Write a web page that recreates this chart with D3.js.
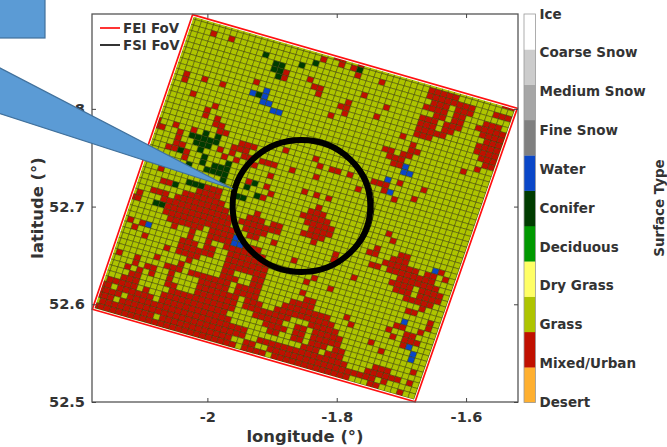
<!DOCTYPE html>
<html><head><meta charset="utf-8">
<script src="https://cdn.jsdelivr.net/npm/d3@7"></script>
<style>html,body{margin:0;padding:0;background:#fff}svg{display:block}text{font-family:"DejaVu Sans",sans-serif;font-weight:bold;fill:#333}</style>
</head><body><svg id="c" width="667" height="447"></svg>
<script>
(function(){
const surfaceTypes=["Desert","Mixed/Urban","Grass","Dry Grass","Deciduous","Conifer","Water","Fine Snow","Medium Snow","Coarse Snow","Ice"];
const surfaceColors=["#ffb030","#c01000","#aec400","#ffff66","#009900","#003c00","#0a47c8","#808080","#a6a6a6","#cccccc","#ffffff"];
const lonTicks=[-2,-1.8,-1.6];
const latTicks=[52.5,52.6,52.7,52.8];
// FEI footprint corners [lon, lat]: top, right, bottom, left
const feiCorners=[[-2.0229,52.8964],[-1.5208,52.8006],[-1.6788,52.5003],[-2.1779,52.5949]];
// FSI footprint: centre and radii in degrees
const fsiCentre=[-1.8545,52.7006];
const fsiRadius=[0.1065,0.0676];
const gridSize=54;
// Urban cells: one string per grid row, listing columns and column spans
const urbanRows=[
"24-25 28 52-53","22 25 27 40-44","4 7 28 32 40-47 51-53","41-43 45-47","40-43 45-46 50-52",
"17 21 30 42-43 45-46 49-53","17 22-23 34 40-42 44-46 50-53","23 28 40-42 44-45 51-53","13 27-28 33 40-44 50-53","28 40-42 50-53",
"2 5 8 26 38 51-53","2 40 52-53","40-41 51","4 36-37 39-40 49","8 37-39",
"7 38-39","7 9","9-10","10-11 21 26 40 44","0 3 6 14-16 27 29-30 32 36-38",
"0-1 4 13-15 38 43","4 11 13 15-16 18-20 23 27 34 40","4-5 12 14 17","3-4 6 20","6 26 28 30",
"17 20","21 29","3 20 28-30 41","11-13 27-31 42","4-5 10-13 28-32",
"8-14 20 29-32 40 44-45","3-5 7-15 19-21 23-24 28-31 39-40 43-45 51","1 5-16 18-24 30 42-47 49-50 52","0-1 6-16 19-22 34 40-41 43-50","6-17 20-21 24 34 45-51",
"7-12 14-17 44-47 49-52","8 11 14-17 20-22 28 38 45-47 49-52","1 3 11 14 17-23 47-51","2 10-12 14-15 18-24 32 50","4 10-15 18-24 31 35 48-49",
"8 10-13 18-24 52","12 18-19 23-24 31 52","7 11 18-20 23-24 32-33 47-48 51","1 4 9-11 13-19 21-24 30-33 39 46 49-50","4 6-7 10 15-19 21-24 29-36 40 47 49-51",
"3 5 7 10 15-21 23-25 28-37 49","4-5 10-11 15-21 23-30 34-38 44","3-5 11-21 25-29 32-33 35-39 46","1-5 7 10-20 27-30 32-33 35-39","0-1 3-8 10-21 28-29 32-33 35-37 39-40 52",
"0-3 5-24 34-36 38-40 46-48","0-2 4-24 27-41 45-50 52","1-9 11-22 25-26 29-43 44-46 48","0-23 25-28 30-42 46-47 51"];
const coniferCells=[[13,3],[15,4],[16,4],[15,5],[16,5],[16,6],[19,3],[21,2],[28,1],[14,10],[6,20],[7,20],[8,19],[7,21],[8,20],[9,20],[10,19],[10,20],[8,21],[9,21],[8,22],[9,23],[9,24],[13,23],[12,24],[13,24],[11,24],[10,25],[11,25],[12,25],[13,25],[13,26],[5,23],[7,25],[8,28],[9,28],[10,28],[6,29],[4,33],[5,33],[18,25],[17,26],[19,27],[17,28],[16,28]];
const waterCells=[[13,10],[15,9],[15,10],[15,11],[16,11],[17,12],[18,12],[40,15],[40,16],[41,16],[38,18],[39,20],[4,37],[18,35],[18,36],[19,36],[50,31],[48,41],[50,45],[51,46],[51,47]];
const legendItems=[["FEI FoV","#ff0000"],["FSI FoV","#000000"]];

const svg=d3.select("#c");
const pL=92,pR=518,pT=14,pB=402;
const x=d3.scaleLinear().domain([-2.1784,-1.5197]).range([pL,pR]);
const y=d3.scaleLinear().domain([52.5,52.8971]).range([pB,pT]);
const colorOf=Object.fromEntries(surfaceTypes.map((t,i)=>[t,surfaceColors[i]]));

// grid cells
const types=new Map();
urbanRows.forEach((s,r)=>s.split(" ").forEach(p=>{const [a,b]=p.split("-").map(Number);for(let c=a;c<=(b===undefined?a:b);c++)types.set(c+","+r,"Mixed/Urban");}));
coniferCells.forEach(([c,r])=>types.set(c+","+r,"Conifer"));
waterCells.forEach(([c,r])=>types.set(c+","+r,"Water"));
const [T,R,B,L]=feiCorners;
const gridShift=0.2;
function corner(u,v){const a=u/gridSize,b=v/gridSize;
  const lon=(1-a)*(1-b)*T[0]+a*(1-b)*R[0]+a*b*B[0]+(1-a)*b*L[0];
  const lat=(1-a)*(1-b)*T[1]+a*(1-b)*R[1]+a*b*B[1]+(1-a)*b*L[1];
  return [x(lon),y(lat)];}
const cells=[];
for(let r=-1;r<=gridSize;r++)for(let c=-1;c<=gridSize;c++)cells.push({c,r,type:types.get(c+","+r)||"Grass"});
const defs=svg.append("defs");
defs.append("clipPath").attr("id","fei").append("polygon").attr("points",feiCorners.map(p=>[x(p[0]),y(p[1])].join(",")).join(" "));
const g=svg.append("g").attr("clip-path","url(#fei)");
g.selectAll("polygon").data(cells).join("polygon")
 .attr("points",d=>{const s=gridShift-0.5;const u=d.c+s,v=d.r+s;return [corner(u,v),corner(u+1,v),corner(u+1,v+1),corner(u,v+1)].map(p=>p.join(",")).join(" ");})
 .attr("fill",d=>colorOf[d.type]).attr("stroke","#3a3f00").attr("stroke-width",0.5);
// FEI
const feiPts=feiCorners.map(p=>[x(p[0]),y(p[1])].join(",")).join(" ");
svg.append("polygon").attr("points",feiPts).attr("fill","none").attr("stroke","#fff").attr("stroke-width",3.4);
svg.append("polygon").attr("points",feiPts).attr("fill","none").attr("stroke","#ff1010").attr("stroke-width",1.7);
// FSI
const fsi=svg.append("g").attr("fill","none");
const cx=x(fsiCentre[0]),cy=y(fsiCentre[1]),rx=x(fsiCentre[0]+fsiRadius[0])-cx,ry=cy-y(fsiCentre[1]+fsiRadius[1]);
fsi.append("ellipse").attr("cx",cx+2).attr("cy",cy).attr("rx",rx+1.5).attr("ry",ry).attr("stroke","#000").attr("stroke-width",0.8);
fsi.append("ellipse").attr("cx",cx+1.2).attr("cy",cy).attr("rx",rx+1).attr("ry",ry).attr("stroke","#fff").attr("stroke-width",0.9);
fsi.append("ellipse").attr("cx",cx).attr("cy",cy).attr("rx",rx).attr("ry",ry).attr("stroke","#000").attr("stroke-width",6);
// Axes
const axes=svg.append("g");
axes.append("rect").attr("x",pL).attr("y",pT).attr("width",pR-pL).attr("height",pB-pT).attr("fill","none").attr("stroke","#555").attr("stroke-width",1.3);
const tickFmt=d=>String(d);
function style(sel){sel.select(".domain").remove();sel.selectAll("line").attr("stroke","#444").attr("stroke-width",1);sel.selectAll("text").style("font-size","14.6px").attr("fill","#333");}
axes.append("g").attr("transform",`translate(0,${pB})`).call(d3.axisBottom(x).tickValues(lonTicks).tickFormat(tickFmt).tickSizeInner(-4).tickPadding(10)).call(style);
axes.append("g").attr("transform",`translate(${pL},0)`).call(d3.axisLeft(y).tickValues(latTicks).tickFormat(tickFmt).tickSizeInner(-4).tickPadding(7)).call(style);
axes.append("g").attr("transform",`translate(0,${pT})`).call(d3.axisTop(x).tickValues(lonTicks).tickFormat("").tickSizeInner(-4)).call(style);
axes.append("g").attr("transform",`translate(${pR},0)`).call(d3.axisRight(y).tickValues(latTicks).tickFormat("").tickSizeInner(-4)).call(style);
svg.append("text").attr("x",305).attr("y",442).attr("text-anchor","middle").style("font-size","16.4px").text("longitude (°)");
svg.append("text").attr("transform","translate(43,208) rotate(-90)").attr("text-anchor","middle").style("font-size","16.4px").text("latitude (°)");
// Legend
legendItems.forEach(([t,col],i)=>{const ly=28+i*17;
 svg.append("line").attr("x1",100).attr("x2",120).attr("y1",ly).attr("y2",ly).attr("stroke",col).attr("stroke-width",1.6);
 svg.append("text").attr("x",123).attr("y",ly+4.5).style("font-size","13.4px").attr("fill","#222").text(t);});
// Colour bar
const cb=d3.scaleBand().domain(d3.range(surfaceTypes.length)).range([402.5,14]);
const lab=d3.scaleLinear().domain([0,surfaceTypes.length-1]).range([402.5,14]);
const cbar=svg.append("g");
cbar.selectAll("rect").data(surfaceTypes).join("rect").attr("x",524).attr("width",11.5).attr("y",(d,i)=>cb(i)).attr("height",cb.bandwidth()+0.3).attr("fill",(d,i)=>surfaceColors[i]);
cbar.append("rect").attr("x",524).attr("y",14).attr("width",11.5).attr("height",388.5).attr("fill","none").attr("stroke","#999").attr("stroke-width",0.8);
cbar.selectAll("text").data(surfaceTypes).join("text").attr("x",539.5).attr("y",(d,i)=>lab(i)+4.5).style("font-size","13.5px").text(d=>d);
svg.append("text").attr("transform","translate(664,208) rotate(-90)").attr("text-anchor","middle").style("font-size","13.4px").text("Surface Type");
// Callout shape
svg.append("rect").attr("x",-2).attr("y",-2).attr("width",47).attr("height",40).attr("fill","#5b9bd5").attr("stroke","#41719c").attr("stroke-width",1.2);
svg.append("polygon").attr("points","-2,67 233,189 -2,113").attr("fill","#5b9bd5").attr("stroke","#41719c").attr("stroke-width",1.2);
})();
</script></body></html>
